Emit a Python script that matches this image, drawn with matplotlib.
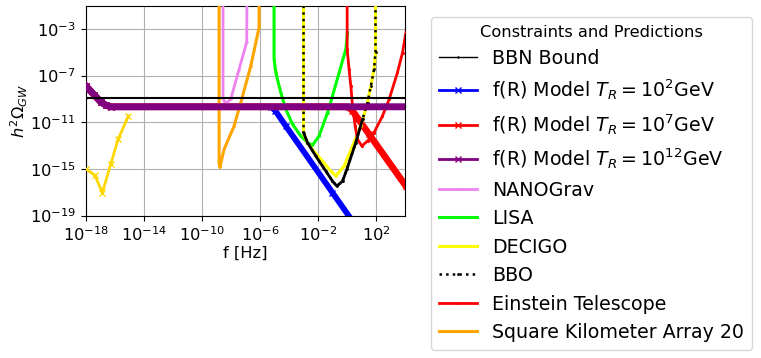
import numpy as np
import matplotlib.pyplot as plt
from matplotlib.ticker import NullLocator

plt.rcParams['font.size'] = 11.7

# curves, stored as log10(f / Hz) and log10(h^2 Omega_GW)
bbn_logf = [-18.0, 4.3]
bbn_logh = [-8.89, -8.89]

fr2_logf = [-18.0, -17.42, -16.96, -16.6, -16.27, -5.25, -4.95, -4.22, -1.01, 0.6]
fr2_logh = [-7.86, -8.65, -9.25, -9.55, -9.68, -9.68, -10.0, -11.33, -17.04, -19.9]

fr7_logf = [-18.0, -17.42, -16.96, -16.6, -16.27, 0.05, 0.35, 1.51, 4.04, 4.3]
fr7_logh = [-7.86, -8.65, -9.25, -9.55, -9.68, -9.68, -10.0, -12.04, -16.48, -16.94]

fr12_logf = [-18.0, -17.42, -16.96, -16.6, -16.27, 4.3]
fr12_logh = [-7.86, -8.65, -9.25, -9.55, -9.68, -9.68]

nanograv_logf = [-8.54, -8.54, -8.47, -8.27, -8.01, -7.46, -6.91, -6.89]
nanograv_logh = [0.0, -8.9, -9.2, -9.32, -9.03, -6.57, -4.12, 0.0]

lisa_logf = [-5.03, -5.03, -4.91, -4.57, -4.22, -3.76, -3.19, -2.73, -2.39,
             -1.93, -1.35, -1.01, -0.55, -0.09, 0.02]
lisa_logh = [0.0, -5.6, -6.74, -8.46, -9.89, -11.18, -12.18, -12.75, -12.98,
             -12.18, -10.18, -8.75, -6.74, -4.74, -3.31]

decigo_logf = [-3.0, -3.0, -2.75, -2.39, -1.70, -1.13, -0.78, -0.21, 0.37,
               0.94, 1.40, 1.63, 1.85, 1.95, 1.95]
decigo_logh = [0.0, -12.0, -12.75, -13.33, -14.33, -15.19, -15.62, -14.76, -13.04,
               -11.3, -9.32, -7.89, -6.46, -5.0, 0.0]

bbo_logf = [-3.0, -3.0, -2.73, -2.16, -1.47, -1.01, -0.71, -0.32, -0.02,
            0.59, 1.06, 1.40, 1.63, 1.85, 1.95, 1.95]
bbo_logh = [0.0, -11.89, -12.75, -13.90, -15.19, -16.05, -16.48, -16.05, -15.04,
            -12.75, -10.75, -9.32, -7.89, -6.46, -5.0, 0.0]

et_logf = [0.0, 0.0, 0.13, 0.25, 0.37, 0.55, 0.71, 1.01, 1.40, 1.85, 2.43,
           2.89, 3.46, 3.81, 4.04, 4.3]
et_logh = [0.0, -4.74, -6.46, -7.89, -9.61, -11.33, -12.47, -13.04, -12.61, -11.89, -10.47,
           -9.03, -6.74, -5.03, -3.31, -1.5]

ska_logf = [-8.81, -8.81, -8.76, -8.47, -7.78, -7.32, -6.63, -6.06, -6.06]
ska_logh = [0.0, -14.5, -14.87, -13.33, -11.33, -9.32, -6.18, -2.88, 0.0]

gold_logf = [-18.0, -17.36, -16.84, -16.27, -15.76, -15.05]
gold_logh = [-14.98, -15.56, -17.04, -14.61, -12.47, -10.47]


def pts(logf, logh):
    return 10 ** np.array(logf), 10 ** np.array(logh)


fig = plt.figure(figsize=(7.61, 3.58), dpi=100)
ax = fig.add_axes([0.1124, 0.398, 0.4202, 0.5866])

ax.plot(*pts(bbn_logf, bbn_logh), color='black', lw=1.5, marker='+', ms=2, label='BBN Bound', zorder=6)
ax.plot(*pts(fr2_logf, fr2_logh), color='blue', lw=4.2, marker='x', ms=4, label=r'f(R) Model $T_R=10^2$GeV', zorder=2)
ax.plot(*pts(fr7_logf, fr7_logh), color='red', lw=4.8, marker='x', ms=4, label=r'f(R) Model $T_R=10^7$GeV', zorder=2)
ax.plot(*pts(fr12_logf, fr12_logh), color='purple', lw=5, marker='x', ms=4, label=r'f(R) Model $T_R=10^{12}$GeV', zorder=5)
ax.plot(*pts(nanograv_logf, nanograv_logh), color='violet', lw=2, marker='+', ms=2, label='NANOGrav', zorder=3)
ax.plot(*pts(lisa_logf, lisa_logh), color='lime', lw=2.2, marker='.', ms=2, label='LISA', zorder=3)
ax.plot(*pts(decigo_logf, decigo_logh), color='yellow', lw=2.2, marker='.', ms=2, label='DECIGO', zorder=3)
ax.plot(*pts(bbo_logf, bbo_logh), color='black', lw=1.8, ls=':', marker='.', ms=2, label='BBO', zorder=4)
# lower part of BBO looks solid in the original (dense markers)
ax.plot(*pts(bbo_logf[1:11], bbo_logh[1:11]), color='black', lw=2, zorder=4)
ax.plot(*pts(et_logf, et_logh), color='red', lw=2, marker='.', ms=2.5, label='Einstein Telescope', zorder=3)
ax.plot(*pts(ska_logf, ska_logh), color='orange', lw=2.2, marker='.', ms=2, label='Square Kilometer Array 20', zorder=3)
ax.plot(*pts(gold_logf, gold_logh), color='gold', lw=2, marker='x', ms=4, zorder=3)

ax.set_xscale('log')
ax.set_yscale('log')
ax.set_xlim(1e-18, 1e4)
ax.set_ylim(1e-19, 1e-1)
ax.set_xticks([1e-18, 1e-14, 1e-10, 1e-6, 1e-2, 1e2])
ax.set_yticks([1e-19, 1e-15, 1e-11, 1e-7, 1e-3])
ax.xaxis.set_minor_locator(NullLocator())
ax.yaxis.set_minor_locator(NullLocator())
ax.grid(True)
ax.set_xlabel('f [Hz]', labelpad=1)
ax.set_ylabel(r'$h^2\Omega_{GW}$', labelpad=0)

leg = ax.legend(title='Constraints and Predictions', loc='upper left',
                bbox_to_anchor=(431 / 761, 1 - 17 / 358), bbox_transform=fig.transFigure,
                borderaxespad=0, fontsize=13.7, title_fontsize=11.7)
handles = leg.legend_handles
handles[0].set_linewidth(1)
for h in handles[1:4]:
    h.set_linewidth(2)

fig.savefig('out.png', dpi=100)
